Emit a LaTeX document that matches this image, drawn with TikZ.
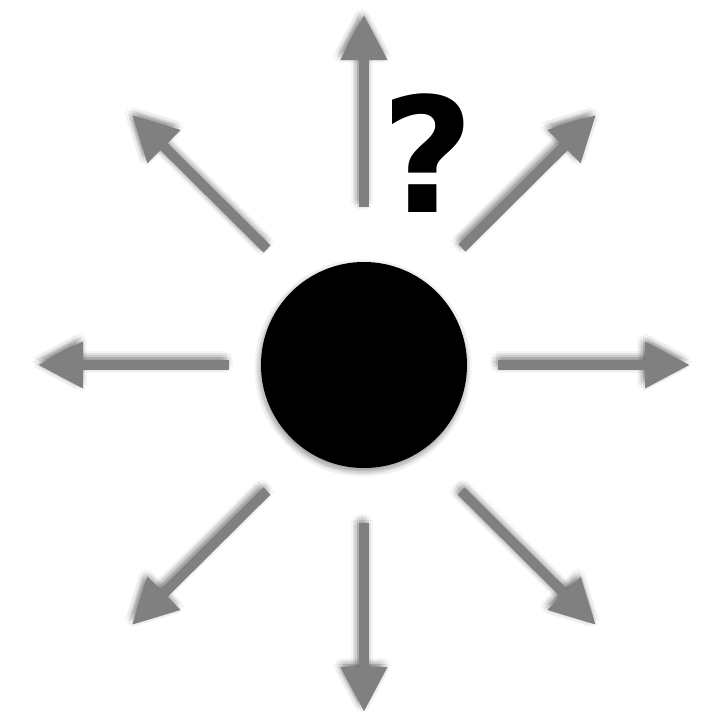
\documentclass[tikz,border=0pt]{standalone}
\usepackage{fontspec}
\setsansfont{DejaVu Sans}
\usetikzlibrary{arrows.meta}

\begin{document}
\begin{tikzpicture}[
  x=1pt, y=-1pt,
  ray/.style={draw=black!50, line width=10pt, -{Triangle[length=45pt, width=44pt]}},
  rayshade/.style={draw=black, line width=10pt, -{Triangle[length=45pt, width=44pt]}, opacity=0.035},
  mass/.style={circle, fill=black, minimum size=206pt, inner sep=0pt},
  ask/.style={font=\sffamily\bfseries\fontsize{160}{160}\selectfont, inner sep=0pt, anchor=base}
]
\useasboundingbox (0,0) rectangle (714,715);

% ray ends
\coordinate (n0)  at (364,207); \coordinate (n1)  at (364,15);
\coordinate (ne0) at (462,248); \coordinate (ne1) at (596,115);
\coordinate (e0)  at (498,365); \coordinate (e1)  at (690,365);
\coordinate (se0) at (461,491); \coordinate (se1) at (596,625);
\coordinate (s0)  at (364,523); \coordinate (s1)  at (364,712);
\coordinate (sw0) at (267,491); \coordinate (sw1) at (132,625);
\coordinate (w0)  at (229,365); \coordinate (w1)  at (38,365);
\coordinate (nw0) at (267,249); \coordinate (nw1) at (132,115);

% soft shadows
\foreach \ox/\oy in {-2/-3, 1/-3, -5/-3, -2/0, -2/-6, 0.1/-0.9, -4.1/-0.9, 0.1/-5.1, -4.1/-5.1,
                     4/-3, -8/-3, -2/3, -2/-9, 2.2/1.2, -6.2/1.2, 2.2/-7.2, -6.2/-7.2} {
  \foreach \d in {n,ne,e,se,s,sw,w,nw}
    \draw[rayshade, transform canvas={shift={(\ox,\oy)}}] (\d0) -- (\d1);
  \fill[black, opacity=0.03, transform canvas={shift={(\ox+1,\oy+6)}}] (364,365) circle[radius=103pt];
}

% the rays
\foreach \d in {n,ne,e,se,s,sw,w,nw}
  \draw[ray] (\d0) -- (\d1);

\node[mass] (body) at (364,365) {};
\node[ask] (q) at (428,212) {?};
\end{tikzpicture}
\end{document}
